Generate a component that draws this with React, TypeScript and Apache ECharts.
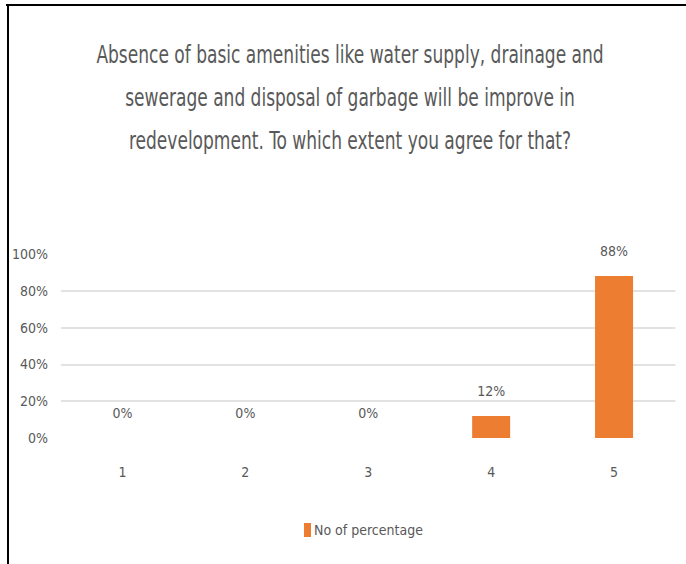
import React, { useEffect, useRef } from "react";
import * as echarts from "echarts";

const categories = ["1", "2", "3", "4", "5"];
const percentValues = [0, 0, 0, 0.12, 0.88];
const seriesName = "No of percentage";
const titleLines = [
  "Absence of basic amenities like water supply, drainage and",
  "sewerage and disposal of garbage will be improve in",
  "redevelopment. To which extent you agree for that?",
];
const yTicks = { min: 0, max: 1, interval: 0.2 };

const FONT = "'DejaVu Sans Condensed', 'DejaVu Sans', sans-serif";
const TEXT = "#595959";

export default function App() {
  const ref = useRef<HTMLDivElement>(null);
  useEffect(() => {
    if (!ref.current) return;
    const chart = echarts.init(ref.current, undefined, { renderer: "svg" });
    const pct = (v: number) => `${Math.round(v * 100)}%`;
    chart.setOption({
      animation: false,
      backgroundColor: "#ffffff",
      textStyle: { fontFamily: FONT },
      legend: {
        data: [seriesName],
        left: 299,
        top: 518,
        itemWidth: 7,
        itemHeight: 14,
        itemGap: 4,
        icon: "rect",
        textStyle: { fontFamily: FONT, fontSize: 14, color: TEXT, padding: [0, 0, 0, -2] },
      },
      grid: { left: 61, right: 10.5, top: 254, bottom: 126, containLabel: false },
      xAxis: {
        type: "category",
        data: categories,
        axisLine: { show: false },
        axisTick: { show: false },
        axisLabel: { color: TEXT, fontFamily: FONT, fontSize: 14, margin: 27 },
      },
      yAxis: {
        type: "value",
        min: yTicks.min,
        max: yTicks.max,
        interval: yTicks.interval,
        axisLine: { show: false },
        axisTick: { show: false },
        axisLabel: {
          color: TEXT,
          fontFamily: FONT,
          fontSize: 14,
          margin: 13,
          formatter: (v: number) => pct(v),
          padding: [4, 0, 0, 0],
        },
        splitLine: {
          show: true,
          showMinLine: false,
          showMaxLine: false,
          lineStyle: { color: "#d9d9d9", width: 1.5 },
        },
      },
      series: [
        {
          name: seriesName,
          type: "bar",
          data: percentValues,
          barWidth: 38,
          itemStyle: { color: "#ED7D31" },
          label: {
            show: true,
            position: "top",
            distance: 18,
            color: TEXT,
            fontFamily: FONT,
            fontSize: 14,
            formatter: (p: any) => pct(p.value),
          },
        },
      ],
      graphic: [
        {
          type: "group",
          x: 350,
          y: 33,
          scaleX: 0.79,
          children: [
            {
              type: "text",
              x: 0,
              y: 0,
              style: {
                text: titleLines.join("\n"),
                fontFamily: FONT,
                fontSize: 24,
                lineHeight: 43,
                fill: TEXT,
                align: "center",
                verticalAlign: "top",
              },
            },
          ],
        },
        { type: "rect", shape: { x: 6, y: 4, width: 680, height: 2 }, style: { fill: "#000" } },
        { type: "rect", shape: { x: 7, y: 4, width: 2, height: 560 }, style: { fill: "#000" } },
      ],
    });
    return () => chart.dispose();
  }, []);
  return (
    <div
      ref={ref}
      style={{ position: "absolute", left: 0, top: 0, width: 686, height: 564, background: "#fff" }}
    />
  );
}
